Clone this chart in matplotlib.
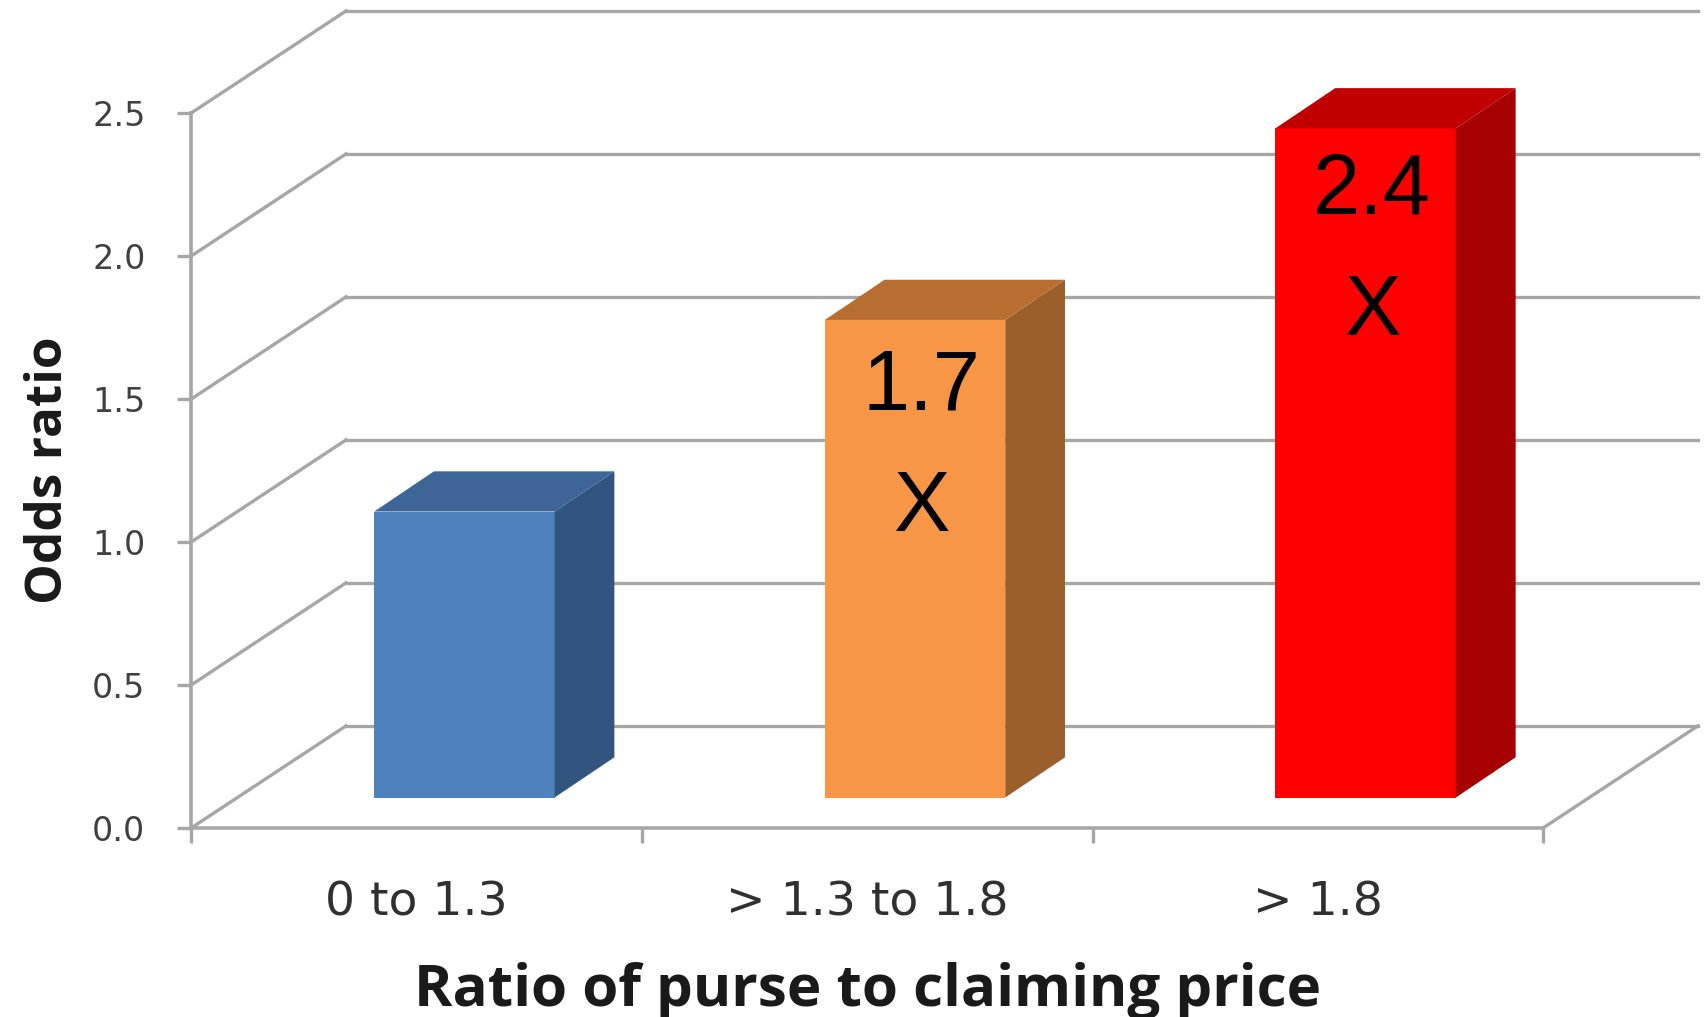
import matplotlib
matplotlib.use("Agg")
import matplotlib.pyplot as plt
from matplotlib.patches import Polygon

categories = ["0 to 1.3", "> 1.3 to 1.8", "> 1.8"]
odds_ratio = [1.0, 1.67, 2.34]
bar_labels = ["", "1.7\nX", "2.4\nX"]
y_ticks = [0.0, 0.5, 1.0, 1.5, 2.0, 2.5]
face_colors = ["#4F81BD", "#F79646", "#FF0000"]
side_colors = ["#32557F", "#9C5F2B", "#A60000"]
top_colors = ["#3E6597", "#B86E30", "#C00000"]
label_drop_px = [21, 25, 21]

W, H = 1568, 936
L, R, B, T = 176, 1420, 762, 104
fig = plt.figure(figsize=(17.04, 10.17), dpi=100, facecolor="white")
ax = fig.add_axes([L/W, 1-B/H, (R-L)/W, (B-T)/H])
ax.set_xlim(0, 3)
ax.set_ylim(0, 2.5)
ux = 3/(R-L)      # data units per reference pixel
uy = 2.5/(B-T)
dx, dy = 142.5*ux, 94*uy  # wall depth
grey = "#A6A6A6"
ax.patch.set_visible(False)
for s in ["top", "right"]:
    ax.spines[s].set_visible(False)
for s in ["left", "bottom"]:
    ax.spines[s].set_color(grey)
    ax.spines[s].set_linewidth(2.6)

for v in y_ticks:
    ax.plot([0, dx], [v, v+dy], color=grey, lw=2.4, clip_on=False, zorder=1)
    ax.plot([dx, 3+dx], [v+dy, v+dy], color=grey, lw=2.4, clip_on=False, zorder=1)
ax.plot([3, 3+dx], [0, dy], color=grey, lw=2.4, clip_on=False, zorder=1)

bw = 166*ux
off_x, off_y = 44*ux, 28*uy
bdx, bdy = 55*ux, 37*uy
for i, v in enumerate(odds_ratio):
    x0 = i + 0.5 - bw/2 + off_x
    x1 = x0 + bw
    y0, y1 = off_y, v + off_y
    ax.add_patch(Polygon([(x0, y0), (x1, y0), (x1, y1), (x0, y1)], fc=face_colors[i], ec="none", zorder=3, clip_on=False))
    ax.add_patch(Polygon([(x1, y0), (x1+bdx, y0+bdy), (x1+bdx, y1+bdy), (x1, y1)], fc=side_colors[i], ec="none", zorder=3, clip_on=False))
    ax.add_patch(Polygon([(x0, y1), (x1, y1), (x1+bdx, y1+bdy), (x0+bdx, y1+bdy)], fc=top_colors[i], ec="none", zorder=3, clip_on=False))
    if bar_labels[i]:
        ax.text((x0+x1)/2 + 6*ux, y1 - label_drop_px[i]*uy, bar_labels[i], ha="center", va="top", fontsize=61,
                family="Liberation Sans", color="black", linespacing=1.67, zorder=4)

ax.set_yticks(y_ticks)
ax.set_yticklabels([f"{v:.1f}" for v in y_ticks], fontsize=24, family="DejaVu Sans", color="#404040")
ax.set_xticks([0, 1, 2, 3])
ax.set_xticklabels([])
ax.set_xticks([0.5, 1.5, 2.5], minor=True)
ax.set_xticklabels(categories, minor=True, fontsize=34, family="DejaVu Sans", color="#303030")
ax.tick_params(axis="x", which="major", length=11, width=2.4, color=grey)
ax.tick_params(axis="x", which="minor", length=0, pad=38)
ax.tick_params(axis="y", length=10, width=2.4, color=grey, pad=23)
ax.set_xlabel("Ratio of purse to claiming price", fontsize=42, fontweight="bold", family="Open Sans", labelpad=26, color="#1a1a1a")
ax.set_ylabel("Odds ratio", fontsize=37, fontweight="bold", family="Open Sans", labelpad=13, color="#1a1a1a")
fig.savefig("out.png", dpi=100, facecolor="white")
